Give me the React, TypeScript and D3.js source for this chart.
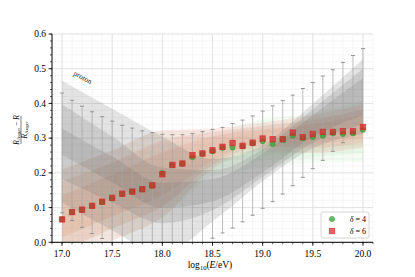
import React from 'react';
import * as d3 from 'd3';

// ---- data ----
const energies = [17.0, 17.1, 17.2, 17.3, 17.4, 17.5, 17.6, 17.7, 17.8, 17.9, 18.0, 18.1, 18.2, 18.3, 18.4, 18.5, 18.6, 18.7, 18.8, 18.9, 19.0, 19.1, 19.2, 19.3, 19.4, 19.5, 19.6, 19.7, 19.8, 19.9, 20.0];
const delta6 = [0.066, 0.087, 0.094, 0.105, 0.117, 0.128, 0.140, 0.146, 0.153, 0.164, 0.196, 0.223, 0.227, 0.251, 0.256, 0.265, 0.275, 0.286, 0.278, 0.287, 0.299, 0.297, 0.297, 0.316, 0.303, 0.312, 0.318, 0.318, 0.320, 0.320, 0.332];
const delta4 = [0.066, 0.087, 0.094, 0.105, 0.116, 0.127, 0.139, 0.146, 0.152, 0.163, 0.199, 0.222, 0.226, 0.245, 0.254, 0.262, 0.272, 0.273, 0.276, 0.285, 0.291, 0.283, 0.295, 0.307, 0.300, 0.303, 0.307, 0.314, 0.312, 0.314, 0.324];
const errUpper = [0.430, 0.409, 0.392, 0.376, 0.362, 0.349, 0.337, 0.329, 0.321, 0.316, 0.311, 0.310, 0.310, 0.313, 0.319, 0.325, 0.331, 0.342, 0.352, 0.364, 0.378, 0.393, 0.408, 0.424, 0.443, 0.460, 0.479, 0.497, 0.518, 0.538, 0.558];
const errLower = [0.085, 0.063, 0.043, 0.025, 0.011, -0.002, -0.014, -0.022, -0.028, -0.032, -0.034, -0.033, -0.028, -0.018, -0.004, 0.012, 0.027, 0.041, 0.059, 0.078, 0.098, 0.117, 0.139, 0.163, 0.187, 0.212, 0.236, 0.262, 0.287, 0.312, 0.337];

const bandX = [17.0, 17.5, 18.0, 18.5, 19.0, 19.5, 20.0];
const protonCenter = [0.290, 0.210, 0.135, 0.150, 0.228, 0.335, 0.420];
const protonW1 = [0.038, 0.037, 0.036, 0.032, 0.027, 0.032, 0.053];
const protonW2 = [0.108, 0.095, 0.080, 0.058, 0.040, 0.048, 0.080];
const protonW3 = [0.175, 0.175, 0.170, 0.090, 0.052, 0.064, 0.108];

const d6Center = [0.075, 0.135, 0.198, 0.270, 0.305, 0.312, 0.335];
const d6W1 = [0.060, 0.060, 0.062, 0.035, 0.020, 0.028, 0.033];
const d6W2 = [0.100, 0.095, 0.095, 0.047, 0.030, 0.040, 0.048];
const d6W3 = [0.135, 0.130, 0.125, 0.058, 0.040, 0.055, 0.063];

const d4Center = [0.075, 0.133, 0.195, 0.255, 0.285, 0.300, 0.320];
const d4W1 = [0.060, 0.060, 0.060, 0.035, 0.035, 0.040, 0.045];
const d4W2 = [0.100, 0.095, 0.090, 0.050, 0.050, 0.055, 0.062];
const d4W3 = [0.135, 0.130, 0.125, 0.065, 0.070, 0.072, 0.088];

const xTicks = [17.0, 17.5, 18.0, 18.5, 19.0, 19.5, 20.0];
const yTicks = [0.0, 0.1, 0.2, 0.3, 0.4, 0.5, 0.6];

// ---- layout ----
const W = 415, H = 277;
const L = 52, R = 373, T = 34, B = 242.3;
const x = d3.scaleLinear().domain([16.9, 20.1]).range([L, R]);
const y = d3.scaleLinear().domain([0, 0.6]).range([B, T]);
const FONT = "Liberation Serif, DejaVu Serif, serif";

function bandPath(center: number[], w: number[]) {
  const pts = bandX.map((bx, i) => ({ bx, lo: center[i] - w[i], hi: center[i] + w[i] }));
  return d3.area<any>().x(d => x(d.bx)).y0(d => y(d.lo)).y1(d => y(d.hi)).curve(d3.curveMonotoneX)(pts) || '';
}

export default function App() {
  const xMinor = d3.range(169, 202).map(v => v / 10);
  const yMinor = d3.range(0, 31).map(v => v * 0.02);
  const bands = (c: number[], ws: number[][], color: string, op: number) =>
    ws.map((w, i) => <path key={i} d={bandPath(c, w)} fill={color} fillOpacity={op} stroke="none" />);
  return (
    <svg width={W} height={H} style={{ position: 'absolute', left: 0, top: 0, background: '#fff' }} fontFamily={FONT}>
      <defs>
        <clipPath id="plot"><rect x={L} y={T} width={R - L} height={B - T} /></clipPath>
      </defs>
      {/* grid */}
      <g>
        {yMinor.map((v, i) => <line key={'ym' + i} x1={L} x2={R} y1={y(v)} y2={y(v)} stroke="#f0f0f0" strokeWidth={0.6} />)}
        {xMinor.map((v, i) => <line key={'xm' + i} x1={x(v)} x2={x(v)} y1={T} y2={B} stroke="#f0f0f0" strokeWidth={0.6} />)}
        {yTicks.map((v, i) => <line key={'yg' + i} x1={L} x2={R} y1={y(v)} y2={y(v)} stroke="#dedede" strokeWidth={0.8} />)}
        {xTicks.map((v, i) => <line key={'xg' + i} x1={x(v)} x2={x(v)} y1={T} y2={B} stroke="#dedede" strokeWidth={0.8} />)}
      </g>
      <g clipPath="url(#plot)">
        {bands(d4Center, [d4W3, d4W2, d4W1], '#7fd07f', 0.09)}
        {bands(d6Center, [d6W3, d6W2, d6W1], '#f08078', 0.17)}
        {bands(protonCenter, [protonW3, protonW2, protonW1], '#666666', 0.18)}
        {energies.map((e, i) => (
          <g key={'eb' + i}>
            <line x1={x(e)} x2={x(e)} y1={y(errLower[i])} y2={y(errUpper[i])} stroke="#a8a8a8" strokeWidth={0.9} strokeOpacity={0.8} />
            <line x1={x(e) - 2} x2={x(e) + 2} y1={y(errUpper[i])} y2={y(errUpper[i])} stroke="#8a8a8a" strokeWidth={0.9} />
            <line x1={x(e) - 2} x2={x(e) + 2} y1={y(errLower[i])} y2={y(errLower[i])} stroke="#8a8a8a" strokeWidth={0.9} />
          </g>
        ))}
        {energies.map((e, i) => (
          <circle key={'g' + i} cx={x(e)} cy={y(delta4[i])} r={2.6} fill="#2ca02c" fillOpacity={0.7} stroke="#2ca02c" strokeOpacity={0.7} strokeWidth={0.8} />
        ))}
        {energies.map((e, i) => (
          <rect key={'r' + i} x={x(e) - 2.7} y={y(delta6[i]) - 2.7} width={5.4} height={5.4} fill="#d62728" fillOpacity={0.72} stroke="#d62728" strokeOpacity={0.72} strokeWidth={0.9} />
        ))}
      </g>
      {/* proton label */}
      <text transform={`translate(73,75) rotate(28)`} fontSize={7.5} fill="#222">proton</text>
      {/* axes */}
      <line x1={L} x2={L} y1={T} y2={B} stroke="#000" strokeWidth={1} />
      <line x1={L} x2={R} y1={B} y2={B} stroke="#000" strokeWidth={1} />
      {xMinor.map((v, i) => <line key={'xtm' + i} x1={x(v)} x2={x(v)} y1={B} y2={B + 2} stroke="#000" strokeWidth={0.6} />)}
      {yMinor.map((v, i) => <line key={'ytm' + i} x1={L} x2={L - 2} y1={y(v)} y2={y(v)} stroke="#000" strokeWidth={0.6} />)}
      {xTicks.map((v, i) => (
        <g key={'xt' + i}>
          <line x1={x(v)} x2={x(v)} y1={B} y2={B + 3.5} stroke="#000" strokeWidth={0.8} />
          <text x={x(v)} y={B + 14.5} textAnchor="middle" fontSize={9.5}>{v.toFixed(1)}</text>
        </g>
      ))}
      {yTicks.map((v, i) => (
        <g key={'yt' + i}>
          <line x1={L} x2={L - 3.5} y1={y(v)} y2={y(v)} stroke="#000" strokeWidth={0.8} />
          <text x={L - 6} y={y(v) + 3.3} textAnchor="end" fontSize={9.5}>{v.toFixed(1)}</text>
        </g>
      ))}
      {/* x label */}
      <text x={210} y={268} textAnchor="middle" fontSize={9.5}>
        log<tspan fontSize={6.5} dy={2}>10</tspan><tspan dy={-2}>(</tspan><tspan fontStyle="italic">E</tspan>/eV)
      </text>
      {/* y label */}
      <g transform="translate(21,130) rotate(-90)">
        <text x={0} y={-1.8} textAnchor="middle" fontSize={7.5}>
          <tspan fontStyle="italic">R</tspan><tspan fontSize={5} dy={1.2}>Auger</tspan><tspan dy={-1.2}> − </tspan><tspan fontStyle="italic">R</tspan>
        </text>
        <line x1={-14} x2={14} y1={0} y2={0} stroke="#000" strokeWidth={0.5} />
        <text x={0} y={6.2} textAnchor="middle" fontSize={7.5}>
          <tspan fontStyle="italic">R</tspan><tspan fontSize={5} dy={1.2}>Auger</tspan>
        </text>
      </g>
      {/* legend */}
      <g>
        <rect x={321} y={212} width={48} height={26} rx={2} fill="#fff" fillOpacity={0.85} stroke="#cccccc" strokeWidth={0.8} />
        <circle cx={332} cy={219} r={2.6} fill="#2ca02c" fillOpacity={0.7} stroke="#2ca02c" strokeOpacity={0.7} strokeWidth={0.8} />
        <text x={366} y={222} textAnchor="end" fontSize={8}><tspan fontStyle="italic">δ</tspan> = 4</text>
        <rect x={329.3} y={228.3} width={5.4} height={5.4} fill="#d62728" fillOpacity={0.72} stroke="#d62728" strokeOpacity={0.72} strokeWidth={0.9} />
        <text x={366} y={234} textAnchor="end" fontSize={8}><tspan fontStyle="italic">δ</tspan> = 6</text>
      </g>
    </svg>
  );
}
